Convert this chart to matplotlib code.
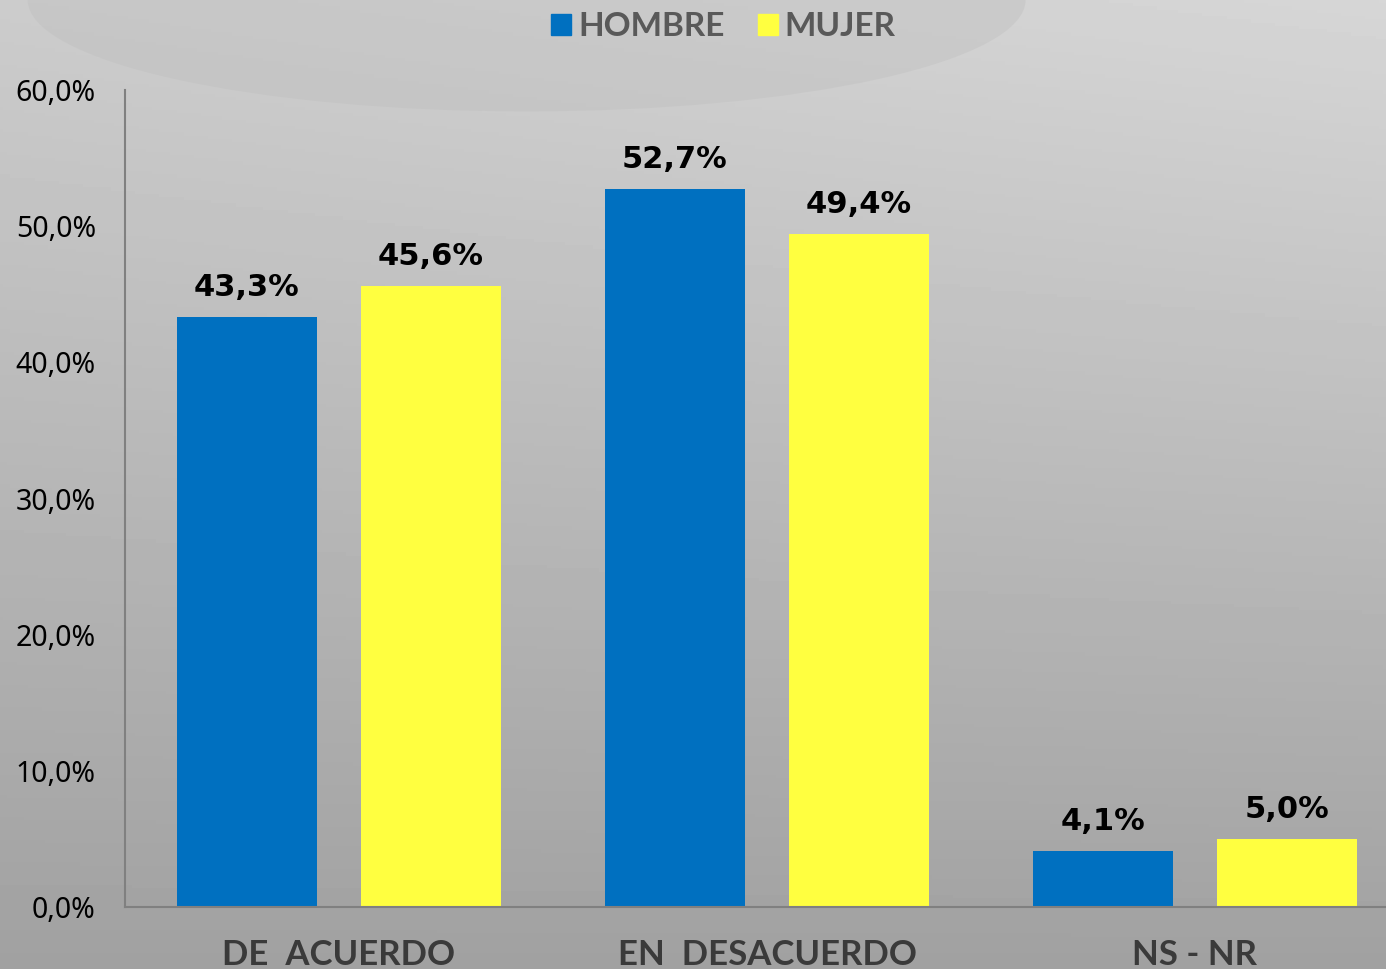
import numpy as np
import matplotlib
matplotlib.use("Agg")
import matplotlib.pyplot as plt
from matplotlib.patches import Patch, Ellipse

categories = ["DE  ACUERDO", "EN  DESACUERDO", "NS - NR"]
series_names = ["HOMBRE", "MUJER"]
hombre = [43.3, 52.7, 4.1]
mujer = [45.6, 49.4, 5.0]
colors = ["#0070C0", "#FFFF40"]
yticks = [0, 10, 20, 30, 40, 50, 60]

W, H = 1386, 969
fig = plt.figure(figsize=(W / 100, H / 100), dpi=100)

# background gradient
bg = fig.add_axes([0, 0, 1, 1], zorder=-10)
yy, xx = np.mgrid[0:1:300j, 0:1:400j]
val = 0.63 + 0.17 * (1 - yy) + 0.04 * xx * (1 - yy)
bg.imshow(val, cmap="gray", vmin=0, vmax=1, aspect="auto", extent=[0, 1, 0, 1], origin="upper")
bg.add_patch(Ellipse((0.38, 1.0), 0.72, 0.23, facecolor="#bcbcbc", edgecolor="none", alpha=0.35))
bg.set_xlim(0, 1); bg.set_ylim(0, 1)
bg.axis("off")

left = 125 / W
bottom = 1 - 907 / H
width = 1284 / W
height = (907 - 90) / H
ax = fig.add_axes([left, bottom, width, height])
ax.patch.set_alpha(0)

x = np.arange(len(categories))
bw = 0.325
off = 0.215
b1 = ax.bar(x - off, hombre, bw, color=colors[0], label=series_names[0])
b2 = ax.bar(x + off, mujer, bw, color=colors[1], label=series_names[1])

for bars, vals in ((b1, hombre), (b2, mujer)):
    for r, v in zip(bars, vals):
        ax.text(r.get_x() + r.get_width() / 2, v + 1.1, f"{v:.1f}%".replace(".", ","),
                ha="center", va="bottom", fontsize=22, fontweight="bold",
                family="DejaVu Sans", color="black")

ax.set_xlim(-0.5, 2.5)
ax.set_ylim(0, 60)
ax.set_yticks(yticks)
ax.set_yticklabels([f"{t:.1f}%".replace(".", ",") for t in yticks],
                   fontsize=20.5, family="Noto Sans", color="black")
ax.set_xticks(x)
ax.set_xticklabels(categories, fontsize=25, fontweight="bold", family="Lato", color="#3a3a3a")
ax.tick_params(axis="both", length=0)
ax.tick_params(axis="y", pad=21)
ax.tick_params(axis="x", pad=23)
for s in ["top", "right"]:
    ax.spines[s].set_visible(False)
for s in ["left", "bottom"]:
    ax.spines[s].set_color("#808080")
    ax.spines[s].set_linewidth(1.5)

handles = [Patch(color=c, label=n) for c, n in zip(colors, series_names)]
fig.legend(handles=handles, loc="center", bbox_to_anchor=(0.522, 1 - 27 / H), ncol=2,
           frameon=False, handlelength=0.6, handleheight=0.6, handletextpad=0.2,
           columnspacing=1.0, prop={"family": "Lato", "weight": "bold", "size": 24},
           labelcolor="#595959")

fig.savefig("out.png", dpi=100)
